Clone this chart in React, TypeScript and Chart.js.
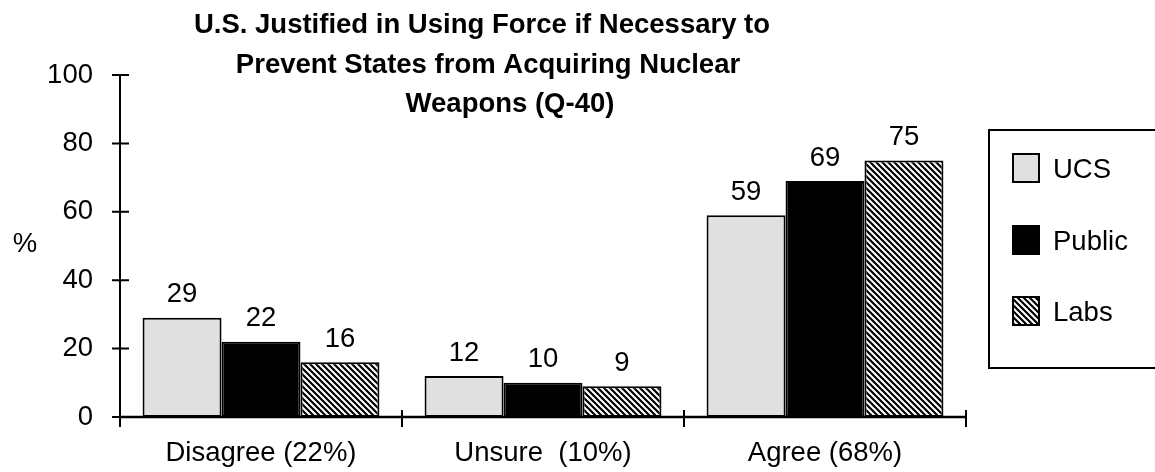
import React, { useEffect, useRef } from "react";
import { Chart, registerables } from "chart.js";

Chart.register(...registerables);

const categories = ["Disagree (22%)", "Unsure  (10%)", "Agree (68%)"];
const seriesNames = ["UCS", "Public", "Labs"];
const ucsValues = [29, 12, 59];
const publicValues = [22, 10, 69];
const labsValues = [16, 9, 75];
const yTickValues = [0, 20, 40, 60, 80, 100];
const titleLines = [
  "U.S. Justified in Using Force if Necessary to",
  "Prevent States from Acquiring Nuclear",
  "Weapons (Q-40)",
];
const yAxisTitle = "%";

const FONT = '"Liberation Sans", Arial, Helvetica, sans-serif';
const FS = 27.5;

function makeStripes(): CanvasPattern | string {
  const s = 6;
  const c = document.createElement("canvas");
  c.width = s;
  c.height = s;
  const g = c.getContext("2d");
  if (!g) return "#888";
  g.fillStyle = "#ffffff";
  g.fillRect(0, 0, s, s);
  g.strokeStyle = "#000000";
  g.lineWidth = 2.2;
  g.beginPath();
  for (const k of [-s, 0, s]) {
    g.moveTo(k - 1, -1);
    g.lineTo(k + s + 1, s + 1);
  }
  g.stroke();
  return g.createPattern(c, "repeat") || "#888";
}

export default function App() {
  const ref = useRef<HTMLCanvasElement | null>(null);

  useEffect(() => {
    const canvas = ref.current;
    if (!canvas) return;
    const stripes = makeStripes();

    const decor = {
      id: "decor",
      afterDatasetsDraw(chart: any) {
        const ctx = chart.ctx as CanvasRenderingContext2D;
        const xs = chart.scales.x;
        const ys = chart.scales.y;
        ctx.save();
        ctx.fillStyle = "#000";
        ctx.font = `${FS}px ${FONT}`;
        ctx.textAlign = "center";
        ctx.textBaseline = "middle";
        chart.data.datasets.forEach((ds: any, di: number) => {
          const meta = chart.getDatasetMeta(di);
          meta.data.forEach((el: any, i: number) => {
            ctx.fillText(String(ds.data[i]), el.x, el.y - 23);
          });
        });
        ctx.strokeStyle = "#000";
        ctx.lineWidth = 2;
        const y0 = ys.getPixelForValue(0);
        const yTop = ys.getPixelForValue(100);
        ctx.beginPath();
        ctx.moveTo(xs.left, yTop);
        ctx.lineTo(xs.left, y0);
        yTickValues.forEach((v) => {
          const py = ys.getPixelForValue(v);
          ctx.moveTo(xs.left - 8, py);
          ctx.lineTo(xs.left + 9, py);
        });
        ctx.stroke();
        ctx.lineWidth = 2.5;
        ctx.beginPath();
        ctx.moveTo(xs.left, y0);
        ctx.lineTo(xs.right, y0);
        ctx.stroke();
        ctx.lineWidth = 2;
        ctx.beginPath();
        const n = categories.length;
        for (let i = 0; i <= n; i++) {
          const px = xs.left + ((xs.right - xs.left) * i) / n;
          ctx.moveTo(px, y0 - 7);
          ctx.lineTo(px, y0 + 10);
        }
        ctx.stroke();
        ctx.restore();
      },
      afterDraw(chart: any) {
        const ctx = chart.ctx as CanvasRenderingContext2D;
        ctx.save();
        ctx.fillStyle = "#000";
        ctx.font = `bold ${FS}px ${FONT}`;
        ctx.textAlign = "center";
        ctx.textBaseline = "alphabetic";
        const centers = [482, 488, 510];
        const baselines = [33, 73, 112];
        titleLines.forEach((t, i) => ctx.fillText(t, centers[i], baselines[i]));
        ctx.font = `${FS}px ${FONT}`;
        ctx.textBaseline = "middle";
        ctx.fillText(yAxisTitle, 25, 244);
        ctx.strokeStyle = "#000";
        ctx.lineWidth = 2;
        ctx.strokeRect(989, 130, 220, 238);
        const rows = [168, 240, 311];
        chart.data.datasets.forEach((ds: any, i: number) => {
          const cy = rows[i];
          ctx.fillStyle = ds.backgroundColor;
          ctx.fillRect(1013, cy - 14, 26, 28);
          ctx.lineWidth = 2;
          ctx.strokeStyle = "#000";
          ctx.strokeRect(1013, cy - 14, 26, 28);
          ctx.fillStyle = "#000";
          ctx.textAlign = "left";
          ctx.textBaseline = "middle";
          ctx.fillText(ds.label, 1053, cy + 2);
        });
        ctx.restore();
      },
    };

    const chart = new Chart(canvas, {
      type: "bar",
      data: {
        labels: categories,
        datasets: [
          {
            label: seriesNames[0],
            data: ucsValues,
            backgroundColor: "#e0e0e0",
            borderColor: "#000",
            borderWidth: 2,
            borderSkipped: false,
          },
          {
            label: seriesNames[1],
            data: publicValues,
            backgroundColor: "#000000",
            borderColor: "#000",
            borderWidth: 2,
            borderSkipped: false,
          },
          {
            label: seriesNames[2],
            data: labsValues,
            backgroundColor: stripes as any,
            borderColor: "#000",
            borderWidth: 2,
            borderSkipped: false,
          },
        ],
      },
      options: {
        responsive: false,
        animation: false,
        layout: { padding: { top: 75, right: 189, bottom: 0, left: 0 } },
        datasets: { bar: { categoryPercentage: 0.84, barPercentage: 1 } },
        plugins: {
          legend: { display: false },
          title: { display: false },
          tooltip: { enabled: false },
        },
        scales: {
          x: {
            grid: { display: false, drawTicks: false },
            border: { display: false },
            ticks: { color: "#000", font: { family: FONT, size: FS }, padding: 20, maxRotation: 0 },
            afterFit: (s: any) => {
              s.height = 55;
            },
          },
          y: {
            min: 0,
            max: 100,
            grid: { display: false, drawTicks: false },
            border: { display: false },
            ticks: { stepSize: 20, color: "#000", font: { family: FONT, size: FS }, padding: 27 },
            afterFit: (s: any) => {
              s.width = 120;
            },
          },
        },
      },
      plugins: [decor],
    });

    return () => chart.destroy();
  }, []);

  return (
    <div style={{ position: "fixed", left: 0, top: 0, width: 1155, height: 472, background: "#fff" }}>
      <canvas ref={ref} width={1155} height={472} style={{ width: 1155, height: 472, display: "block" }} />
    </div>
  );
}
